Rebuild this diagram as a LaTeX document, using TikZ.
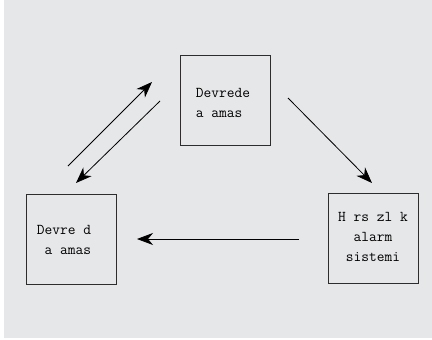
\documentclass[tikz,border=0pt]{standalone}
\usetikzlibrary{arrows.meta, positioning}
\definecolor{panelgray}{RGB}{230, 231, 233}
\definecolor{boxline}{RGB}{45, 45, 45}

\begin{document}
\begin{tikzpicture}[x=1pt, y=-1pt,
  unit/.style={rectangle, draw=boxline, line width=1pt,
               minimum width=90pt, minimum height=90pt, inner sep=0pt},
  caption/.style={font=\ttfamily\fontsize{15}{20}\selectfont, inner sep=0pt},
  arrow/.style={-{Stealth[length=16pt, width=12pt, inset=5pt]}, line width=0.8pt, color=black}
]
  % background panel
  \path[fill=white] (0,0) rectangle (432,340);
  \path[fill=panelgray] (4,0) rectangle (432,338);

  \node[unit] (net)   at (225,100) {};
  \node[unit] (local) at (71,239)  {};
  \node[unit] (alarm) at (373,238) {};

  \node[caption, align=left]   (nettxt)   at (223,103) {Devrede\\a amas};
  \node[caption, align=left]   (localtxt) at (64,240)  {Devre d\\\ a amas};
  \node[caption, align=center] (alarmtxt) at (373,237) {H rs zl k\\alarm\\sistemi};

  % arrow end points
  \coordinate (upS)    at (68,166);
  \coordinate (upE)    at (152,82);
  \coordinate (downS)  at (160,101);
  \coordinate (downE)  at (76,183);
  \coordinate (diagS)  at (288,98);
  \coordinate (diagE)  at (372,183);
  \coordinate (flatS)  at (299,239);
  \coordinate (flatE)  at (137,239);

  \draw[arrow] (upS)   -- (upE);
  \draw[arrow] (downS) -- (downE);
  \draw[arrow] (diagS) -- (diagE);
  \draw[arrow] (flatS) -- (flatE);
\end{tikzpicture}
\end{document}
